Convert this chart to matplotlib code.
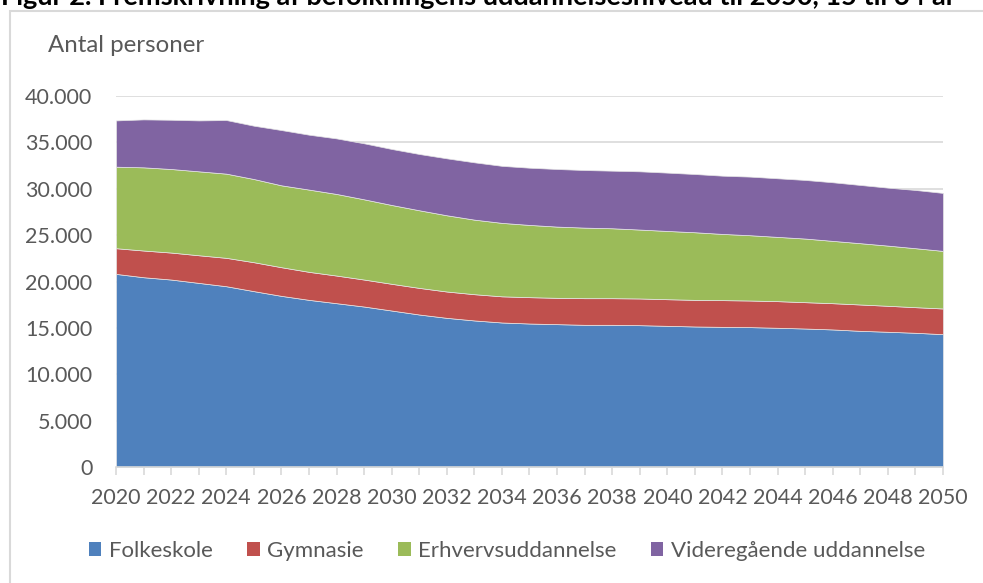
#plot.py

import matplotlib
matplotlib.use("Agg")
import matplotlib.pyplot as plt
from matplotlib.patches import Patch, Rectangle
from matplotlib.ticker import FuncFormatter, MultipleLocator



# Data


years = list(range(2020, 2051))

folkeskole = [20820, 20460, 20210, 19850, 19490, 18960, 18450, 18020, 17660, 17300,
              16870, 16440, 16080, 15800, 15580, 15470, 15400, 15330, 15330, 15290,
              15220, 15150, 15110, 15080, 15010, 14930, 14830, 14680, 14580, 14470, 14320]

gymnasie = [2770, 2880, 2910, 2980, 3060, 3120, 3090, 3020, 2980, 2910,
            2880, 2870, 2840, 2830, 2820, 2840, 2840, 2870, 2870, 2880,
            2870, 2870, 2880, 2870, 2870, 2840, 2830, 2840, 2800, 2760, 2770]

erhverv = [8790, 8970, 9010, 9050, 9080, 8970, 8830, 8870, 8800, 8650,
           8500, 8370, 8220, 8040, 7920, 7790, 7680, 7610, 7540, 7430,
           7360, 7290, 7140, 7040, 6930, 6860, 6720, 6610, 6490, 6360, 6210]

videregaaende = [4990, 5170, 5310, 5490, 5780, 5750, 5960, 5920, 5990, 6040,
                 6040, 6070, 6140, 6180, 6150, 6170, 6210, 6210, 6210, 6280,
                 6290, 6280, 6280, 6320, 6320, 6320, 6320, 6280, 6250, 6280, 6250]

labels = ["Folkeskole", "Gymnasie", "Erhvervsuddannelse", "Videregående uddannelse"]
colors = ["#4F81BD", "#C0504D", "#9BBB59", "#8064A2"]

title = "Figur 2. Fremskrivning af befolkningens uddannelsesniveau til 2050, 15 til 64 år"
y_label = "Antal personer"

TEXT = "#595959"
GRID = "#D9D9D9"
FONT = ["Lato", "DejaVu Sans"]



# Helpers


def dk_thousands(v, pos=None) -> str:
    """Format 35000 as 35.000 (Danish thousands separator)."""
    return f"{int(v):,}".replace(",", ".")



# Plot


def plot_education() -> None:
    plt.rcParams["font.family"] = FONT

    fig = plt.figure(figsize=(9.83, 5.83), dpi=100)
    ax = fig.add_axes([0.118, 0.199, 0.8413, 0.6363])

    ax.stackplot(years, folkeskole, gymnasie, erhverv, videregaaende,
                 colors=colors, edgecolor="#E6E6E6", linewidth=0.5, zorder=2)

    ax.set_xlim(2020, 2050)
    ax.set_ylim(0, 40000)
    ax.yaxis.set_major_locator(MultipleLocator(5000))
    ax.yaxis.set_major_formatter(FuncFormatter(dk_thousands))
    ax.set_xticks(years, minor=True)
    ax.set_xticks(years[::2])

    ax.grid(axis="y", color=GRID, linewidth=1.2, zorder=0)
    for side in ["top", "right", "left"]:
        ax.spines[side].set_visible(False)
    ax.spines["bottom"].set_color(GRID)
    ax.spines["bottom"].set_linewidth(1.2)

    ax.tick_params(axis="y", length=0, pad=17, labelsize=15.5, labelcolor=TEXT)
    ax.tick_params(axis="x", which="both", direction="out", length=6, width=1.2,
                   color=GRID, labelsize=15.5, labelcolor=TEXT, pad=9)

    # axis title sits above the tick labels, like in the spreadsheet chart
    fig.text(48 / 983, 1 - 46 / 583, y_label, fontsize=17.3, color=TEXT,
             ha="left", va="center")

    # chart title, cut off at the top edge of the picture (as in the source)
    fig.text(1 / 983, 1 - 5 / 583, title, fontsize=19.5, fontweight="bold",
             color="black", ha="left", va="baseline")

    # light frame around the chart area
    fig.patches.append(Rectangle((9.5 / 983, -0.05), 1.0, 1 - 10.5 / 583 + 0.05,
                                 transform=fig.transFigure, fill=False,
                                 edgecolor=GRID, linewidth=1.5))

    handles = [Patch(facecolor=c, edgecolor="none") for c in colors]
    fig.legend(handles, labels, loc="center", bbox_to_anchor=(0.516, 1 - 551 / 583),
               ncol=4, frameon=False, fontsize=16, labelcolor=TEXT,
               handlelength=0.55, handleheight=0.55, handletextpad=0.35,
               columnspacing=1.55)

    fig.savefig("out.png", dpi=100)



# Main


if __name__ == "__main__":
    plot_education()
